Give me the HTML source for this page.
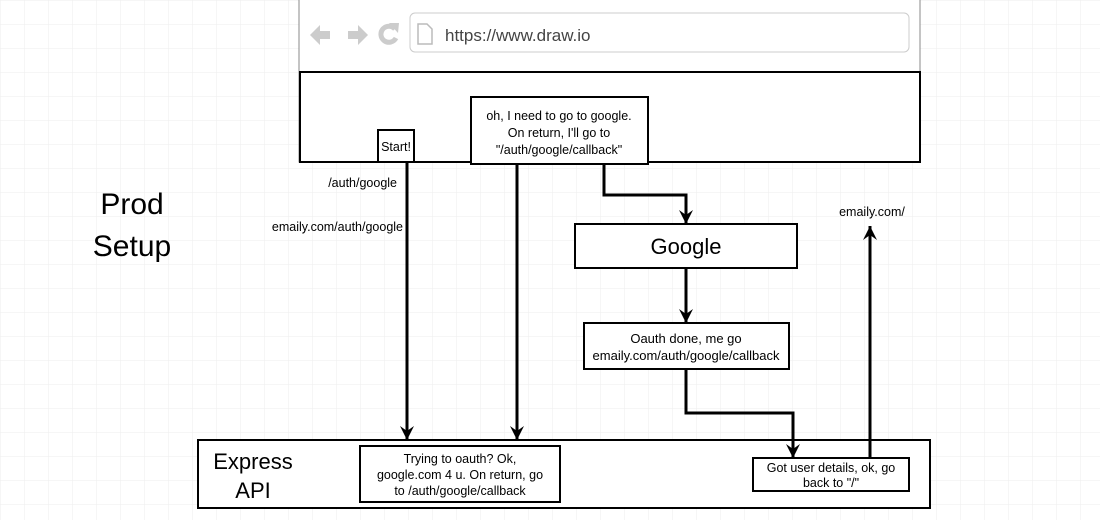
<!DOCTYPE html>
<html><head><style>
body{margin:0;width:1100px;height:520px;overflow:hidden;background:#fff;font-family:"Liberation Sans",sans-serif;}
</style></head><body>
<svg width="1100" height="520" xmlns="http://www.w3.org/2000/svg" font-family="Liberation Sans, sans-serif">
<defs>
<pattern id="g" width="24" height="24" patternUnits="userSpaceOnUse"><path d="M24 0H0V24" fill="none" stroke="#ededed" stroke-width="1"/></pattern>
<marker id="a" markerWidth="16" markerHeight="14" refX="14" refY="7" orient="auto" markerUnits="userSpaceOnUse" viewBox="0 0 16 14"><path d="M0 0L14 7L0 14L5 7Z" fill="#000"/></marker>
</defs>
<rect width="1100" height="520" fill="url(#g)"/>
<rect x="299" y="-2" width="621" height="164" fill="#fff" stroke="#888" stroke-width="1"/>
<rect x="410" y="13" width="499" height="39" rx="5" fill="#fff" stroke="#ccc"/>
<path d="M310 35l10-10v6h10v8h-10v6z" fill="#ccc"/>
<path d="M368 35l-10-10v6h-10v8h10v6z" fill="#ccc"/>
<path d="M395 29a8 8 0 1 0 1 9" fill="none" stroke="#ccc" stroke-width="5"/><path d="M389 23l10 0l-1 10z" fill="#ccc"/>
<path d="M418 24h9l5 5v15h-14z" fill="none" stroke="#bbb" stroke-width="1.5"/>
<text x="445" y="41" font-size="17" fill="#444">https://www.draw.io</text>
<rect x="300" y="72" width="620" height="90" fill="#fff" stroke="#000" stroke-width="2"/>
<rect x="378" y="130" width="36" height="32" fill="#fff" stroke="#000" stroke-width="2"/>
<text x="396" y="151" font-size="12.5" text-anchor="middle">Start!</text>
<rect x="471" y="97" width="177" height="67" fill="#fff" stroke="#000" stroke-width="2"/>
<text font-size="12.5" text-anchor="middle"><tspan x="559" y="120">oh, I need to go to google.</tspan><tspan x="559" y="137">On return, I'll go to</tspan><tspan x="559" y="154">"/auth/google/callback"</tspan></text>
<text x="132" y="214" font-size="30" text-anchor="middle">Prod</text>
<text x="132" y="256" font-size="30" text-anchor="middle">Setup</text>
<text x="397" y="187" font-size="12.5" text-anchor="end">/auth/google</text>
<text x="403" y="231" font-size="12.5" text-anchor="end">emaily.com/auth/google</text>
<text x="872" y="216" font-size="12.5" text-anchor="middle">emaily.com/</text>
<rect x="575" y="224" width="222" height="44" fill="#fff" stroke="#000" stroke-width="2"/>
<text x="686" y="254" font-size="22" text-anchor="middle">Google</text>
<rect x="584" y="323" width="205" height="46" fill="#fff" stroke="#000" stroke-width="2"/>
<text font-size="13" text-anchor="middle"><tspan x="686" y="343">Oauth done, me go</tspan><tspan x="686" y="360">emaily.com/auth/google/callback</tspan></text>
<rect x="198" y="440" width="732" height="68" fill="#fff" stroke="#000" stroke-width="2"/>
<text x="253" y="469" font-size="22" text-anchor="middle">Express</text>
<text x="253" y="498" font-size="22" text-anchor="middle">API</text>
<rect x="360" y="446" width="200" height="56" fill="#fff" stroke="#000" stroke-width="2"/>
<text font-size="12.5" text-anchor="middle"><tspan x="460" y="463">Trying to oauth?  Ok,</tspan><tspan x="460" y="479">google.com 4 u.  On return, go</tspan><tspan x="460" y="495">to /auth/google/callback</tspan></text>
<rect x="753" y="458" width="156" height="33" fill="#fff" stroke="#000" stroke-width="2"/>
<text font-size="12.5" text-anchor="middle"><tspan x="831" y="472">Got user details, ok, go</tspan><tspan x="831" y="487">back to "/"</tspan></text>
<g fill="none" stroke="#000" stroke-width="3">
<path d="M407 163V440" marker-end="url(#a)"/>
<path d="M517 165V440" marker-end="url(#a)"/>
<path d="M604 165V195H686V224" marker-end="url(#a)"/>
<path d="M686 269V323" marker-end="url(#a)"/>
<path d="M686 370V413H793V458" marker-end="url(#a)"/>
<path d="M870 457V226" marker-end="url(#a)"/>
</g>
</svg>
</body></html>
